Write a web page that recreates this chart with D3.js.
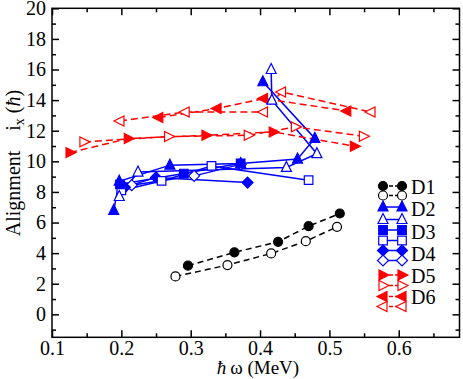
<!DOCTYPE html>
<html>
<head>
<meta charset="utf-8">
<script src="https://cdn.jsdelivr.net/npm/d3@7"></script>
<style>
  body { margin: 0; background: #fff; }
  text { font-family: 'Liberation Serif', 'Times New Roman', serif; }
</style>
</head>
<body>
<svg width="463" height="379"></svg>
<script>
// [hbar omega (MeV), alignment i_x (hbar)]
var d1Filled = [[0.296, 3.18], [0.363, 4.05], [0.426, 4.74], [0.470, 5.76], [0.515, 6.59]];
var d1Open = [[0.278, 2.48], [0.353, 3.22], [0.416, 3.98], [0.466, 4.78], [0.511, 5.72]];
var d2Filled = [[0.189, 6.8], [0.197, 8.7], [0.270, 9.75], [0.372, 9.85], [0.454, 10.15], [0.479, 11.5], [0.404, 15.2]];
var d2Open = [[0.197, 7.7], [0.224, 9.3], [0.438, 9.6], [0.482, 10.5], [0.417, 14.0], [0.416, 16.0]];
var d3Filled = [[0.198, 8.5], [0.290, 9.2], [0.372, 9.87]];
var d3Open = [[0.200, 8.1], [0.258, 8.72], [0.330, 9.7], [0.470, 8.77]];
var d4Filled = [[0.205, 8.3], [0.250, 8.95], [0.382, 8.61]];
var d4Open = [[0.215, 8.44], [0.305, 9.05], [0.372, 9.8]];
var d5Filled = [[0.126, 10.57], [0.210, 11.49], [0.322, 11.70], [0.419, 11.92], [0.536, 10.99]];
var d5Open = [[0.146, 11.27], [0.268, 11.62], [0.383, 11.70], [0.451, 12.25], [0.549, 11.64]];
var d6Filled = [[0.254, 12.86], [0.338, 13.45], [0.405, 14.1], [0.525, 13.29]];
var d6Open = [[0.198, 12.64], [0.292, 13.22], [0.405, 13.22], [0.431, 14.53], [0.560, 13.22]];

var xTicks = [0.1, 0.2, 0.3, 0.4, 0.5, 0.6];
var yTicks = [0, 2, 4, 6, 8, 10, 12, 14, 16, 18, 20];
var legendNames = ['D1', 'D2', 'D3', 'D4', 'D5', 'D6'];

var series = [
  {data: d1Filled, shape: 'circle', color: 'black', fill: true, dash: '6,4'},
  {data: d1Open, shape: 'circle', color: 'black', fill: false, dash: '6,4'},
  {data: d2Filled, shape: 'up', color: '#0000ff', fill: true, dash: null},
  {data: d2Open, shape: 'up', color: '#0000ff', fill: false, dash: null},
  {data: d3Filled, shape: 'square', color: '#0000ff', fill: true, dash: null},
  {data: d3Open, shape: 'square', color: '#0000ff', fill: false, dash: null},
  {data: d4Filled, shape: 'diamond', color: '#0000ff', fill: true, dash: null},
  {data: d4Open, shape: 'diamond', color: '#0000ff', fill: false, dash: null},
  {data: d5Filled, shape: 'right', color: '#ff0000', fill: true, dash: '7,4'},
  {data: d5Open, shape: 'right', color: '#ff0000', fill: false, dash: '7,4'},
  {data: d6Filled, shape: 'left', color: '#ff0000', fill: true, dash: '7,4'},
  {data: d6Open, shape: 'left', color: '#ff0000', fill: false, dash: '7,4'}
];

function markerPath(shape) {
  var s = 5;
  if (shape === 'circle') return 'M-4.5,0A4.5,4.5 0 1,0 4.5,0A4.5,4.5 0 1,0 -4.5,0Z';
  if (shape === 'up') return 'M0,' + (-s - 1) + 'L' + s + ',' + (s - 1) + 'L' + (-s) + ',' + (s - 1) + 'Z';
  if (shape === 'square') return 'M-4.3,-4.3L4.3,-4.3L4.3,4.3L-4.3,4.3Z';
  if (shape === 'diamond') return 'M0,-5.5L5.5,0L0,5.5L-5.5,0Z';
  if (shape === 'right') return 'M' + (s + 1) + ',0L' + (-s + 1) + ',' + (-s) + 'L' + (-s + 1) + ',' + s + 'Z';
  if (shape === 'left') return 'M' + (-s - 1) + ',0L' + (s - 1) + ',' + (-s) + 'L' + (s - 1) + ',' + s + 'Z';
}

var svg = d3.select('svg');
var plotLeft = 52, plotRight = 459.5, plotTop = 8.3, plotBottom = 337.3;

var x = d3.scaleLinear().domain([0.1, 0.6876]).range([plotLeft, plotRight]);
var y = d3.scaleLinear().domain([-1.5, 20]).range([plotBottom, plotTop]);

var xMinor = [0.15, 0.25, 0.35, 0.45, 0.55, 0.65];
var yMinor = [-1, 1, 3, 5, 7, 9, 11, 13, 15, 17, 19];

// minor ticks
svg.append('g')
  .attr('transform', `translate(0,${plotBottom})`)
  .call(d3.axisBottom(x).tickValues(xMinor).tickSize(-4).tickFormat(''));
svg.append('g')
  .attr('transform', `translate(0,${plotTop})`)
  .call(d3.axisTop(x).tickValues(xMinor).tickSize(-4).tickFormat(''));
svg.append('g')
  .attr('transform', `translate(${plotLeft},0)`)
  .call(d3.axisLeft(y).tickValues(yMinor).tickSize(-4).tickFormat(''));
svg.append('g')
  .attr('transform', `translate(${plotRight},0)`)
  .call(d3.axisRight(y).tickValues(yMinor).tickSize(-4).tickFormat(''));

// major ticks
svg.append('g')
  .attr('class', 'xaxis')
  .attr('transform', `translate(0,${plotBottom})`)
  .call(d3.axisBottom(x).tickValues(xTicks).tickSize(-7).tickPadding(3).tickFormat(d3.format('.1f')));
svg.append('g')
  .attr('transform', `translate(0,${plotTop})`)
  .call(d3.axisTop(x).tickValues(xTicks).tickSize(-7).tickFormat(''));
svg.append('g')
  .attr('class', 'yaxis')
  .attr('transform', `translate(${plotLeft},0)`)
  .call(d3.axisLeft(y).tickValues(yTicks).tickSize(-7).tickPadding(6));
svg.append('g')
  .attr('transform', `translate(${plotRight},0)`)
  .call(d3.axisRight(y).tickValues(yTicks).tickSize(-7).tickFormat(''));

svg.selectAll('.domain').remove();
svg.selectAll('.tick line').attr('stroke', 'black').attr('stroke-width', 1.5);
svg.selectAll('.xaxis text, .yaxis text')
  .attr('font-size', 20)
  .attr('font-family', 'Liberation Serif')
  .attr('fill', 'black');

svg.append('rect')
  .attr('x', plotLeft).attr('y', plotTop)
  .attr('width', plotRight - plotLeft).attr('height', plotBottom - plotTop)
  .attr('fill', 'none').attr('stroke', 'black').attr('stroke-width', 1.5);

// series
var line = d3.line().x(d => x(d[0])).y(d => y(d[1]));
series.forEach(function(s) {
  svg.append('path')
    .attr('d', line(s.data))
    .attr('fill', 'none')
    .attr('stroke', s.color)
    .attr('stroke-width', 1.5)
    .attr('stroke-dasharray', s.dash);
});
series.slice().reverse().forEach(function(s) {
  svg.selectAll(null)
    .data(s.data)
    .enter()
    .append('path')
    .attr('d', markerPath(s.shape))
    .attr('transform', d => `translate(${x(d[0])},${y(d[1])})`)
    .attr('fill', s.fill ? s.color : 'white')
    .attr('stroke', s.color)
    .attr('stroke-width', 1.2);
});

// legend
var legendY = [186, 195.5, 207, 219.5, 230, 240.5, 250.5, 260.5, 275, 285.5, 296.5, 306.5];
series.forEach(function(s, i) {
  var ly = legendY[i];
  svg.append('line')
    .attr('x1', 383).attr('x2', 402)
    .attr('y1', ly).attr('y2', ly)
    .attr('stroke', s.color)
    .attr('stroke-width', 1.5)
    .attr('stroke-dasharray', s.dash ? '4,2' : null);
  [383, 402].forEach(function(lx) {
    svg.append('path')
      .attr('d', markerPath(s.shape))
      .attr('transform', `translate(${lx},${ly})`)
      .attr('fill', s.fill ? s.color : 'white')
      .attr('stroke', s.color)
      .attr('stroke-width', 1.2);
  });
});
var labelY = [194, 216, 239, 261, 283, 304];
legendNames.forEach(function(n, i) {
  svg.append('text')
    .attr('x', 411)
    .attr('y', labelY[i])
    .attr('font-size', 20)
    .text(n);
});

// axis titles
var xt = svg.append('text')
  .attr('x', 258)
  .attr('y', 374)
  .attr('text-anchor', 'middle')
  .attr('font-size', 19);
xt.append('tspan').attr('font-style', 'italic').text('\u0127');
xt.append('tspan').text('\u2009\u03c9 (MeV)');

var yt = svg.append('text')
  .attr('transform', 'translate(20,163) rotate(-90)')
  .attr('text-anchor', 'middle')
  .attr('font-size', 20);
yt.append('tspan').text('Alignment\u2003i');
yt.append('tspan').attr('font-size', 14).attr('dy', 4).text('x');
yt.append('tspan').attr('dy', -4).text(' (');
yt.append('tspan').attr('font-style', 'italic').text('\u0127');
yt.append('tspan').text(')');
</script>
</body>
</html>
